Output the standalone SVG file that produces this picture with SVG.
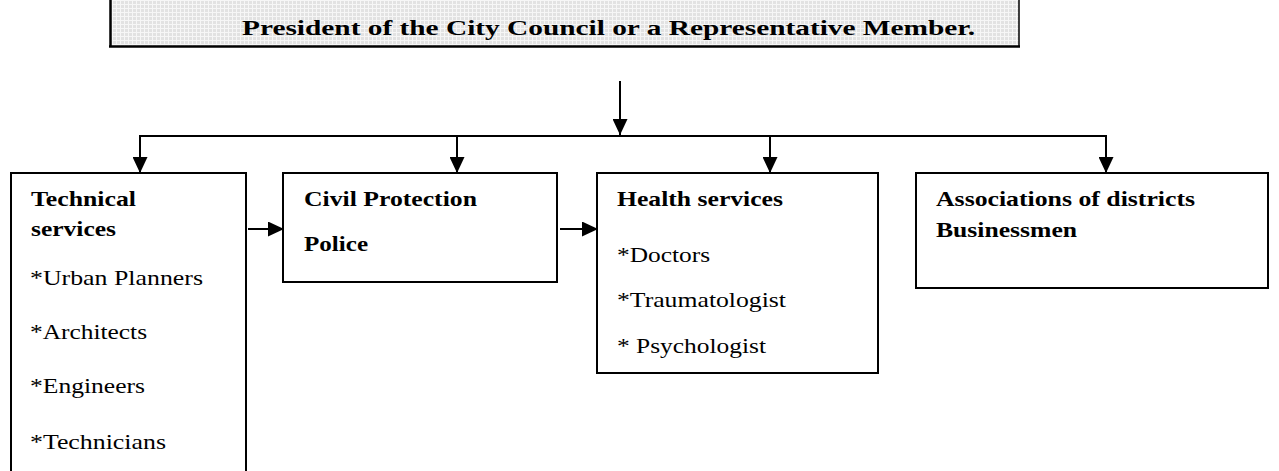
<svg xmlns="http://www.w3.org/2000/svg" width="1279" height="471" viewBox="0 0 1279 471">
  <style>
    .box { fill: #ffffff; stroke: #000000; stroke-width: 2; }
    .link { fill: none; stroke: #000000; stroke-width: 2; }
    .bold { font-family: "Liberation Serif", "Times New Roman", serif; font-weight: bold; font-size: 22px; fill: #000000; }
    .item { font-family: "Liberation Serif", "Times New Roman", serif; font-size: 22px; fill: #000000; }
  </style>
  <defs>
    <pattern id="shade" width="4" height="4" patternUnits="userSpaceOnUse">
      <rect width="4" height="4" fill="#e2e2e2"/>
      <rect x="0" y="0" width="4" height="1" fill="#f6f6f6"/>
      <rect x="0" y="0" width="1" height="4" fill="#f6f6f6"/>
    </pattern>
    <marker id="head" viewBox="0 0 16 15" refX="16" refY="7.5" markerWidth="16" markerHeight="15" markerUnits="userSpaceOnUse" orient="auto">
      <path d="M0,0 L16,7.5 L0,15 Z" fill="#000000"/>
    </marker>
  </defs>

  <!-- Head of the organisation (top frame, cut at the page edge) -->
  <g id="president">
    <rect x="110" y="-4" width="909" height="51" fill="url(#shade)"/>
    <line x1="1019" y1="-4" x2="1019" y2="47" stroke="#000000" stroke-width="1.5"/>
    <line x1="110.5" y1="-4" x2="110.5" y2="47" stroke="#000000" stroke-width="2.5"/>
    <line x1="109" y1="46.5" x2="1020" y2="46.5" stroke="#000000" stroke-width="2.5"/>
    <text class="bold" transform="translate(242,35) scale(1.16,1)" textLength="631.9" lengthAdjust="spacingAndGlyphs">President of the City Council or a Representative Member.</text>
  </g>

  <!-- Connectors -->
  <g id="connectors">
    <line class="link" x1="620" y1="81" x2="620" y2="135" marker-end="url(#head)"/>
    <polyline class="link" points="140,173 140,136 1106,136 1106,173"/>
    <line class="link" x1="140" y1="136" x2="140" y2="173" marker-end="url(#head)"/>
    <line class="link" x1="457" y1="136" x2="457" y2="173" marker-end="url(#head)"/>
    <line class="link" x1="770" y1="136" x2="770" y2="173" marker-end="url(#head)"/>
    <line class="link" x1="1106" y1="136" x2="1106" y2="173" marker-end="url(#head)"/>
    <line class="link" x1="248" y1="229" x2="284" y2="229" marker-end="url(#head)"/>
    <line class="link" x1="560" y1="229" x2="598" y2="229" marker-end="url(#head)"/>
  </g>

  <!-- Technical services -->
  <g id="technical">
    <rect class="box" x="11" y="173" width="235" height="310"/>
    <text class="bold" transform="translate(31,206) scale(1.16,1)" textLength="90.5" lengthAdjust="spacingAndGlyphs">Technical</text>
    <text class="bold" transform="translate(31,236) scale(1.16,1)" textLength="73.3" lengthAdjust="spacingAndGlyphs">services</text>
    <text class="item" transform="translate(30,285) scale(1.16,1)" textLength="149.1" lengthAdjust="spacingAndGlyphs">*Urban Planners</text>
    <text class="item" transform="translate(30,339) scale(1.16,1)" textLength="100.9" lengthAdjust="spacingAndGlyphs">*Architects</text>
    <text class="item" transform="translate(30,393) scale(1.16,1)" textLength="99.1" lengthAdjust="spacingAndGlyphs">*Engineers</text>
    <text class="item" transform="translate(30,449) scale(1.16,1)" textLength="117.2" lengthAdjust="spacingAndGlyphs">*Technicians</text>
  </g>

  <!-- Civil protection / police -->
  <g id="civil">
    <rect class="box" x="283" y="173" width="274" height="109"/>
    <text class="bold" transform="translate(304,206) scale(1.16,1)" textLength="149.1" lengthAdjust="spacingAndGlyphs">Civil Protection</text>
    <text class="bold" transform="translate(304,251) scale(1.16,1)" textLength="55.2" lengthAdjust="spacingAndGlyphs">Police</text>
  </g>

  <!-- Health services -->
  <g id="health">
    <rect class="box" x="597" y="173" width="281" height="200"/>
    <text class="bold" transform="translate(617,206) scale(1.16,1)" textLength="143.1" lengthAdjust="spacingAndGlyphs">Health services</text>
    <text class="item" transform="translate(617,262) scale(1.16,1)" textLength="80.2" lengthAdjust="spacingAndGlyphs">*Doctors</text>
    <text class="item" transform="translate(617,307) scale(1.16,1)" textLength="145.7" lengthAdjust="spacingAndGlyphs">*Traumatologist</text>
    <text class="item" transform="translate(617,353) scale(1.16,1)" textLength="128.4" lengthAdjust="spacingAndGlyphs">* Psychologist</text>
  </g>

  <!-- Associations -->
  <g id="associations">
    <rect class="box" x="916" y="173" width="352" height="115"/>
    <text class="bold" transform="translate(936,206) scale(1.16,1)" textLength="223.3" lengthAdjust="spacingAndGlyphs">Associations of districts</text>
    <text class="bold" transform="translate(936,237) scale(1.16,1)" textLength="121.6" lengthAdjust="spacingAndGlyphs">Businessmen</text>
  </g>
</svg>
